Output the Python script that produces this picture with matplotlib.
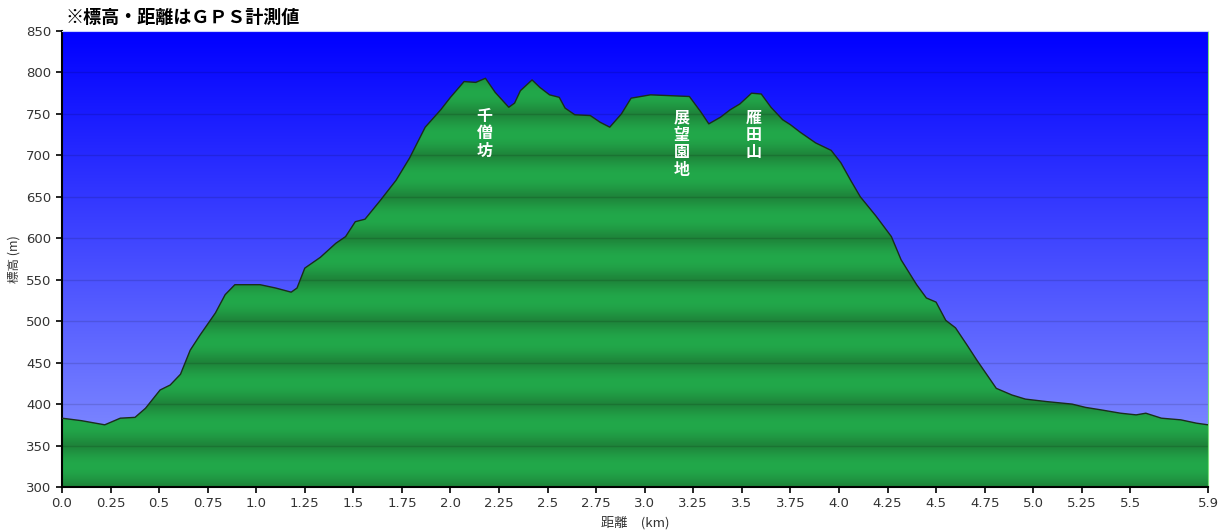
import matplotlib
matplotlib.use('Agg')
import matplotlib.pyplot as plt
import numpy as np

plt.rcParams['font.family'] = ['Noto Sans CJK JP', 'DejaVu Sans']

# distance (km) and elevation (m)
dist = [0.0, 0.1, 0.196, 0.22, 0.3, 0.376, 0.43, 0.505, 0.557, 0.61, 0.66, 0.71, 0.79,
        0.84, 0.89, 1.02, 1.1, 1.18, 1.21, 1.25, 1.33, 1.41, 1.46, 1.51, 1.56,
        1.64, 1.72, 1.79, 1.87, 1.95, 2.0, 2.07, 2.13, 2.18, 2.23, 2.3, 2.33,
        2.36, 2.42, 2.46, 2.51, 2.56, 2.59, 2.64, 2.72, 2.77, 2.82, 2.88, 2.93,
        2.98, 3.03, 3.13, 3.23, 3.29, 3.33, 3.39, 3.44, 3.49, 3.55, 3.6, 3.65,
        3.71, 3.75, 3.8, 3.88, 3.96, 4.01, 4.06, 4.11, 4.19, 4.27, 4.32, 4.4,
        4.45, 4.5, 4.55, 4.6, 4.66, 4.71, 4.76, 4.81, 4.89, 4.96, 5.07, 5.2,
        5.27, 5.35, 5.45, 5.53, 5.58, 5.66, 5.76, 5.84, 5.9]
elev = [383, 380, 376, 375, 383, 384, 395, 417, 423, 436, 465, 483, 510,
        532, 544, 544, 540, 535, 540, 564, 577, 594, 602, 620, 623,
        646, 670, 697, 734, 755, 770, 789, 788, 793, 776, 758, 763,
        778, 791, 782, 773, 770, 757, 749, 748, 740, 734, 750, 769,
        771, 773, 772, 771, 752, 738, 746, 755, 762, 775, 774, 758,
        743, 737, 728, 715, 706, 691, 670, 650, 627, 602, 574, 544,
        528, 523, 501, 492, 471, 453, 436, 419, 411, 406, 403, 400,
        396, 393, 389, 387, 389, 383, 381, 377, 375]

xticks = [0.0, 0.25, 0.5, 0.75, 1.0, 1.25, 1.5, 1.75, 2.0, 2.25, 2.5, 2.75, 3.0,
          3.25, 3.5, 3.75, 4.0, 4.25, 4.5, 4.75, 5.0, 5.25, 5.5, 5.9]
xticklabels = ['0.0', '0.25', '0.5', '0.75', '1.0', '1.25', '1.5', '1.75', '2.0',
               '2.25', '2.5', '2.75', '3.0', '3.25', '3.5', '3.75', '4.0', '4.25',
               '4.5', '4.75', '5.0', '5.25', '5.5', '5.9']
yticks = [300, 350, 400, 450, 500, 550, 600, 650, 700, 750, 800, 850]

labels = ['千僧坊', '展望園地', '雁田山']
label_x = [2.175, 3.19, 3.56]
label_y = [757, 755, 755]

xmin, xmax = 0.0, 5.9
ymin, ymax = 300, 850

fig = plt.figure(figsize=(12.25, 5.32), dpi=100)
ax = fig.add_axes([62 / 1225, 1 - 487 / 532, 1146 / 1225, 456 / 532])

# sky: blue gradient
n = 400
t = np.linspace(0, 1, n)[:, None]
top = np.array([0, 0, 255]) / 255
bot = np.array([140, 152, 255]) / 255
sky = top + (bot - top) * t
sky = np.repeat(sky[:, None, :], 2, axis=1)
ax.imshow(sky, extent=[xmin, xmax, ymin, ymax], aspect='auto', zorder=0)

# green fill with a soft shaded band per 50 m
yy = np.linspace(ymax, ymin, 1100)
frac = ((yy - ymin) % 50) / 50.0
shade = np.sin(np.pi * frac) ** 1.2
dark = np.array([30, 132, 58]) / 255
light = np.array([34, 168, 74]) / 255
green = dark + (light - dark) * shade[:, None]
green = np.repeat(green[:, None, :], 2, axis=1)
img = ax.imshow(green, extent=[xmin, xmax, ymin, ymax], aspect='auto', zorder=1)
poly = ax.fill_between(dist, elev, ymin, color='none', zorder=1)
img.set_clip_path(poly.get_paths()[0], transform=ax.transData)
ax.plot(dist, elev, color='#1a2e1a', lw=1.0, zorder=3)

for y in yticks[1:-1]:
    ax.axhline(y, color='black', lw=1.0, alpha=0.12, zorder=2)

for name, x, y in zip(labels, label_x, label_y):
    ax.text(x, y, '\n'.join(name), color='white', fontsize=11.5, fontweight='bold',
            ha='center', va='top', linespacing=1.1, zorder=4)

ax.set_xlim(xmin, xmax)
ax.set_ylim(ymin, ymax)
ax.set_xticks(xticks)
ax.set_xticklabels(xticklabels, family='DejaVu Sans')
ax.set_yticks(yticks)
ax.set_yticklabels([str(v) for v in yticks], family='DejaVu Sans')
ax.tick_params(labelsize=9.5, colors='black', labelcolor='#333333', length=4, width=1.2)
ax.spines['left'].set_linewidth(1.5)
ax.spines['bottom'].set_linewidth(1.5)
ax.spines['top'].set_color('#c8d0ff')
ax.spines['right'].set_color('#7be07b')

ax.set_ylabel('標高 (m)', fontsize=9, color='#333333', labelpad=4)
ax.set_xlabel('距離　(km)', fontsize=9.5, color='#333333', labelpad=4)

fig.text(65 / 1225, 1 - 17 / 532, '※標高・距離はＧＰＳ計測値', fontsize=13,
         fontweight='bold', ha='left', va='center')

plt.savefig('out.png')
